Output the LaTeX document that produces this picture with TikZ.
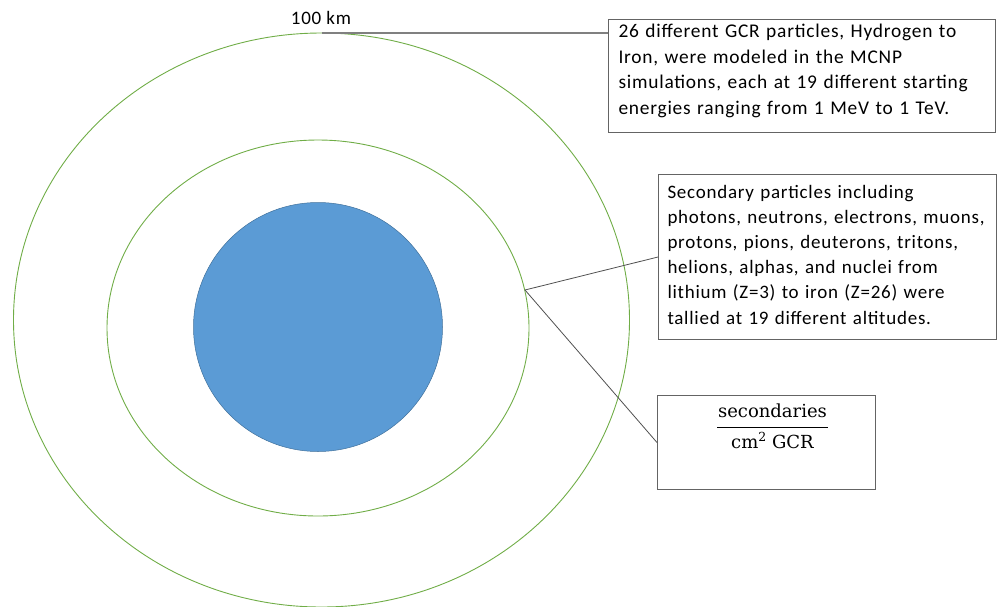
\documentclass[tikz,border=0pt]{standalone}
\usepackage{fontspec}
\setmainfont[LetterSpace=4]{Carlito}
\newfontfamily\fracfont{DejaVu Serif}
\definecolor{ringgreen}{RGB}{112,173,71}
\definecolor{earthblue}{RGB}{91,155,213}
\definecolor{earthedge}{RGB}{65,113,156}
\definecolor{boxgray}{RGB}{100,100,100}
\definecolor{linegray}{RGB}{80,80,80}
\begin{document}
\begin{tikzpicture}[x=1pt,y=-1pt,
  ring/.style={draw=ringgreen,line width=0.9pt},
  earth/.style={fill=earthblue,draw=earthedge,line width=0.5pt},
  textbox/.style={draw=boxgray,line width=1pt,fill=white,align=left,inner ysep=0pt},
  conn/.style={draw=linegray,line width=0.8pt},
  toplbl/.style={font=\fontsize{19}{22}\selectfont,inner sep=0pt}]
\useasboundingbox (0,0) rectangle (997,606);
% rings and planet
\draw[ring] (321.5,320) ellipse [x radius=308, y radius=287];
\draw[ring] (318,328) ellipse [x radius=211, y radius=188];
\draw[earth] (318,327) circle [radius=124.5];
% anchor points
\coordinate (outertop) at (321.5,33);
\coordinate (midpt) at (525,290);
% label
\node[toplbl] (lbl100) at (321,18) {100 km};
% boxes
\node[textbox,anchor=north west,inner xsep=10pt,text width=367pt,
  font=\fontsize{19.4}{25.7}\selectfont,text height=18pt,text depth=95pt] (box1) at (608,19)
  {26 different GCR particles, Hydrogen to\\ Iron, were modeled in the MCNP\\ simulations, each at 19 different starting\\ energies ranging from 1 MeV to 1 TeV.};
\node[textbox,anchor=north west,inner xsep=9pt,text width=320pt,
  font=\fontsize{19}{25.1}\selectfont,text height=24pt,text depth=141pt] (box2) at (658,174)
  {\mbox{Secondary particles including}\\ \mbox{photons, neutrons, electrons, muons,}\\ \mbox{protons, pions, deuterons, tritons,}\\ \mbox{helions, alphas, and nuclei from}\\ \mbox{lithium (Z=3) to iron (Z=26) were}\\ \mbox{tallied at 19 different altitudes.}};
\node[draw=boxgray,line width=1pt,anchor=north west,inner xsep=0pt,inner ysep=0pt,
  minimum width=218pt,text height=22pt,text depth=72pt] (box3) at (657,395)
  {\hspace*{12pt}\fracfont\fontsize{18}{22}\selectfont\setlength\arrayrulewidth{1.6pt}\setlength\tabcolsep{1pt}%
   \begin{tabular}[t]{c}secondaries\rule[-9pt]{0pt}{9pt}\\\hline
   \rule{0pt}{20pt}cm\raisebox{7pt}{\fontsize{12.5}{13}\selectfont 2} GCR\end{tabular}};
% connectors
\draw[draw=gray,line width=1.3pt] (outertop) -- (outertop -| box1.west);
\draw[conn] (midpt) -- (box2.west);
\draw[conn] (midpt) -- (box3.west);
\end{tikzpicture}
\end{document}
